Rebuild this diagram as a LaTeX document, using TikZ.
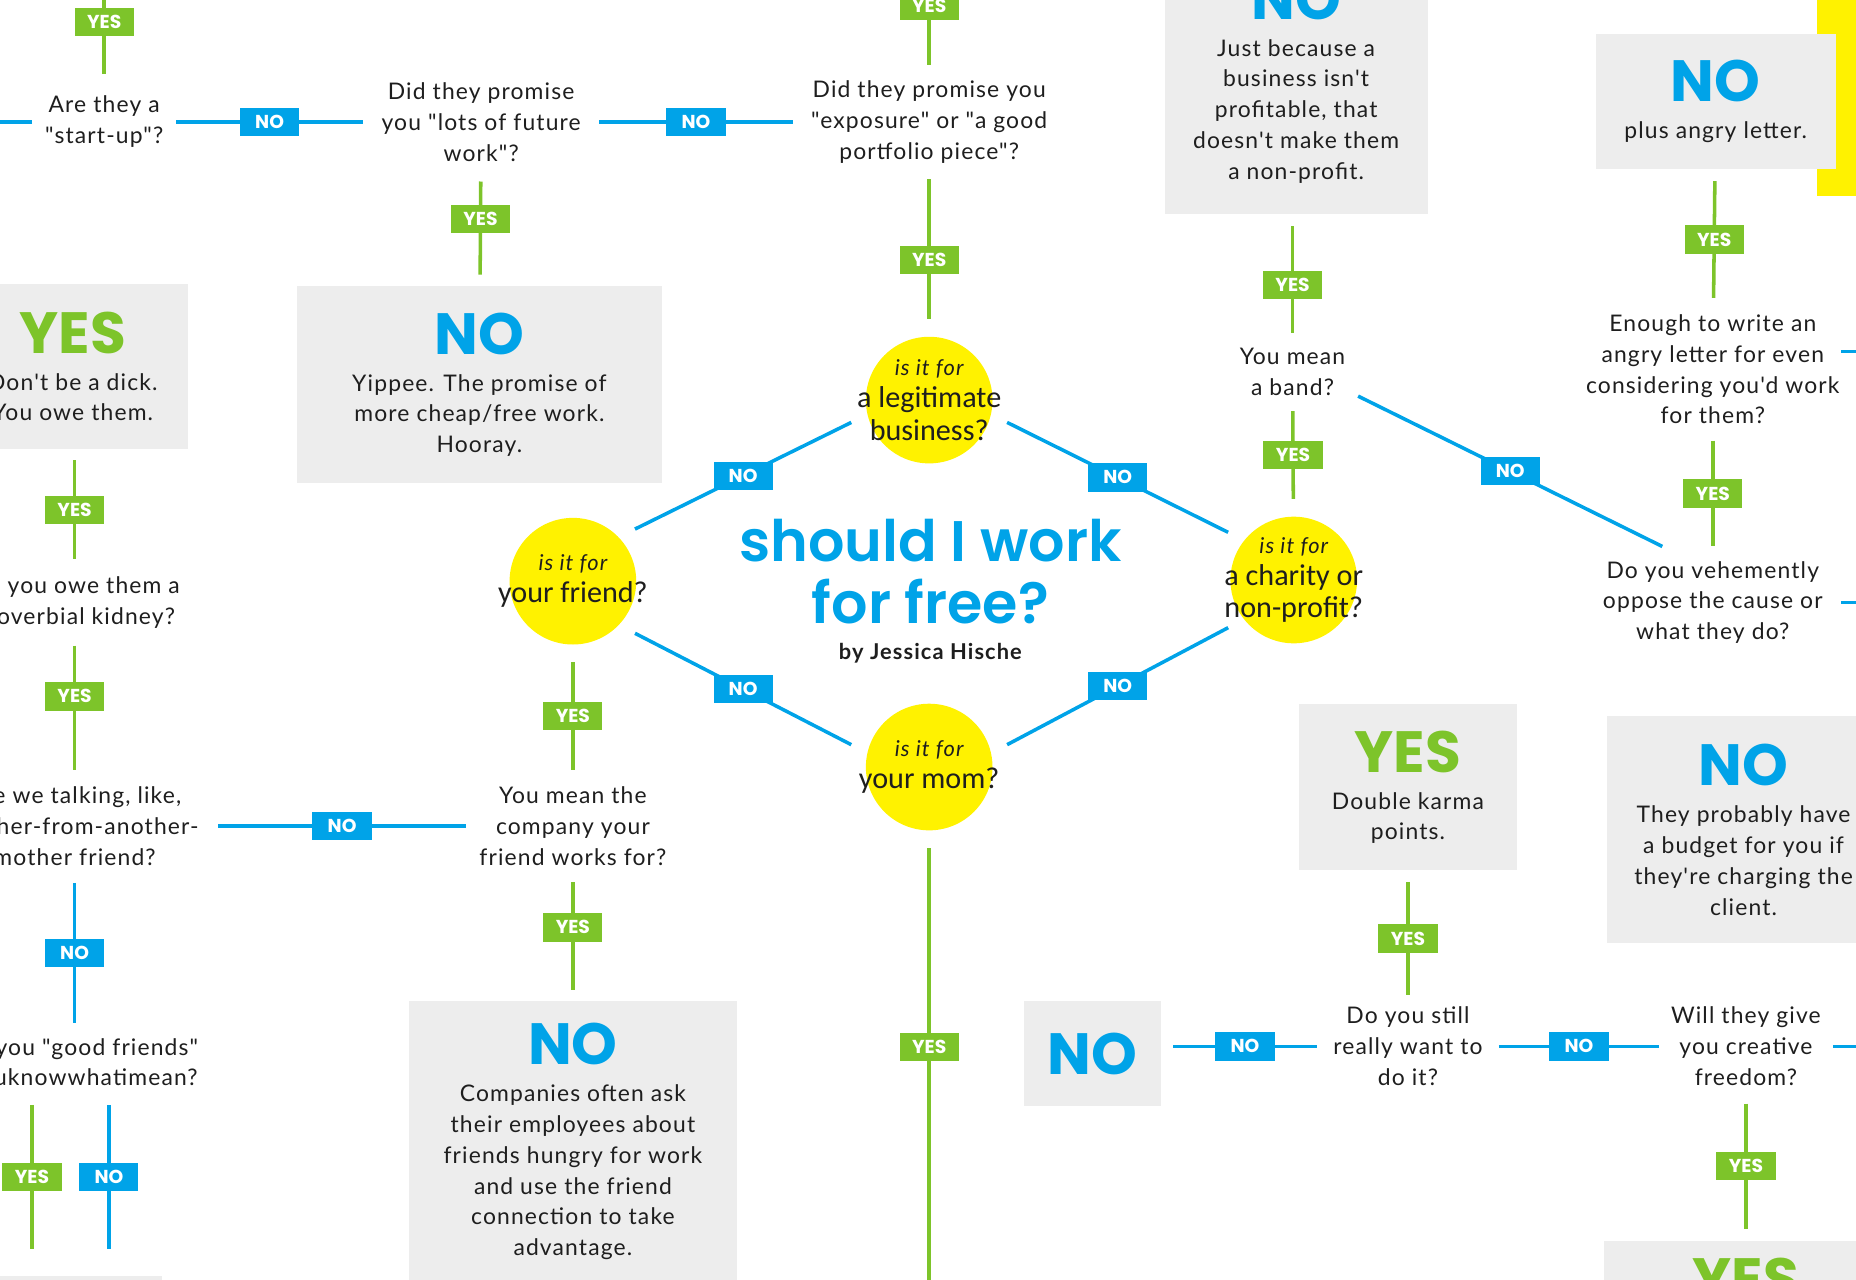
\documentclass[tikz,border=0pt]{standalone}
\usepackage{fontspec}
\setmainfont{Lato}
\newfontfamily\bodyfont{Lato}[LetterSpace=5]
\newfontfamily\headfont{Poppins}
\newfontfamily\titlefont{Poppins}[UprightFont=* SemiBold]
\newfontfamily\bubfont{Carlito}
\usetikzlibrary{calc}

\definecolor{yesgreen}{HTML}{7DC42A}
\definecolor{noblue}{HTML}{00A3E8}
\definecolor{sunny}{HTML}{FFF200}
\definecolor{boxgray}{HTML}{EDEDED}
\definecolor{ink}{HTML}{1E1E1E}

\newcommand{\bigyes}{{\headfont\bfseries\fontsize{28}{28}\selectfont\color{yesgreen}YES}}
\newcommand{\bigno}{{\headfont\bfseries\fontsize{28}{28}\selectfont\color{noblue}NO}}
\newcommand{\isitfor}{{\bodyfont\itshape\fontsize{10.5}{12}\selectfont is it for}}

\tikzset{
	ask/.style={font=\bodyfont\fontsize{11}{14.8}\selectfont, align=center, inner sep=0pt, text=ink},
	bubble/.style={circle, fill=sunny, minimum size=2.14cm, inner sep=0pt, outer sep=0.3cm},
	bubtext/.style={font=\bubfont\fontsize{14.5}{15.5}\selectfont, align=center, inner sep=0pt, text=ink},
	verdict/.style={fill=boxgray, align=center, inner sep=0pt, outer sep=0.2cm, text=ink,
		font=\bodyfont\fontsize{11}{14.8}\selectfont},
	yesline/.style={draw=yesgreen, line width=1.7pt},
	noline/.style={draw=noblue, line width=1.7pt},
	yeslab/.style={fill=yesgreen, text=white, inner sep=0pt, minimum width=1cm, minimum height=0.48cm,
		font=\headfont\bfseries\fontsize{9}{9}\selectfont},
	nolab/.style={yeslab, fill=noblue},
}

\begin{document}
\begin{tikzpicture}[x=0.02cm, y=-0.02cm]
		%%%%% START %%%%%
		\useasboundingbox (0,0) rectangle (1568,1081);
		\clip (0,0) rectangle (1568,1081);
		
		\node[fill=sunny, anchor=north west, minimum width=1.5cm, minimum height=3.5cm, inner sep=0pt] (sunbar) at (1535,-10) {};
		
		% circles and title
		\node[bubble] (legit) at (785,338) {};
		\node[bubtext] (legit-t) at (legit) {\isitfor\\a legitimate\\business?};
		\node[bubble] (friend) at (484,491) {};
		\node[bubtext] (friend-t) at (friend) {\isitfor\\your friend?};
		\node[bubble] (charity) at (1093,490) {};
		\node[bubtext] (charity-t) at (charity) {\isitfor\\a charity or\\non-profit?};
		\node[bubble] (mom) at (785,648) {};
		\node[bubtext] (mom-t) at (mom) {\isitfor\\your mom?};
		
		\node[align=center, text=noblue, font=\titlefont\fontsize{27.5}{29.6}\selectfont] (title) at (786,483) {should I work\\for free?};
		\node[text=ink, font=\bodyfont\bfseries\fontsize{10.5}{12}\selectfont] (byline) at (786,552) {by Jessica Hische};
		
		% questions
		\node[ask, minimum width=2.42cm, minimum height=1.6cm] (startup) at (88,103) {Are they a\\"start-up"?};
		\node[ask, minimum width=3.98cm, minimum height=2cm] (future) at (406.5,103) {Did they promise\\you "lots of future\\work"?};
		\node[ask, minimum width=4.6cm, minimum height=1.92cm] (exposure) at (785,103) {Did they promise you\\"exposure" or "a good\\portfolio piece"?};
		\node[ask, minimum width=2.2cm, minimum height=1.3cm] (band) at (1092,314.5) {You mean\\a band?};
		\node[ask, minimum width=4.32cm, minimum height=2.4cm] (enough) at (1447,312) {Enough to write an\\angry letter for even\\considering you'd work\\for them?};
		\node[ask, minimum width=4.32cm, minimum height=1.88cm] (vehement) at (1447,509) {Do you vehemently\\oppose the cause or\\what they do?};
		\node[ask, minimum width=3.06cm, minimum height=1.72cm] (still) at (1189.5,884) {Do you still\\really want to\\do it?};
		\node[ask, minimum width=2.92cm, minimum height=1.92cm] (freedom) at (1475,884) {Will they give\\you creative\\freedom?};
		\node[ask, minimum width=3.6cm, minimum height=1.88cm] (company) at (484,698) {You mean the\\company your\\friend works for?};
		\node[ask, minimum width=4.84cm, minimum height=1.9cm] (brother) at (63,698) {Are we talking, like,\\brother-from-another-\\mother friend?};
		\node[ask, minimum width=3.6cm, minimum height=1.44cm] (kidney) at (63,509) {Do you owe them a\\proverbial kidney?};
		\node[ask, minimum width=3.6cm, minimum height=1.36cm] (friends) at (63,899) {Are you "good friends"\\ifyouknowwhatimean?};
		
		% answers
		\node[verdict, minimum width=3.9cm, minimum height=2.78cm] (dick) at (61.5,309.5) {\bigyes\\[3pt]Don't be a dick.\\You owe them.};
		\node[verdict, minimum width=6.16cm, minimum height=3.32cm] (yippee) at (405,325) {\bigno\\[3pt]Yippee. The promise of\\more cheap/free work.\\Hooray.};
		\node[verdict, minimum width=4.44cm, minimum height=4.52cm] (justbec) at (1095,68) {\bigno\\[3pt]Just because a\\business isn't\\profitable, that\\doesn't make them\\a non-profit.};
		\node[verdict, minimum width=4.06cm, minimum height=2.28cm] (angry) at (1449.5,86) {\bigno\\[3pt]plus angry letter.};
		\node[verdict, minimum width=3.7cm, minimum height=2.8cm] (karma) at (1189.5,665) {\bigyes\\[3pt]Double karma\\points.};
		\node[verdict, minimum width=4.6cm, minimum height=3.84cm] (budget) at (1473,701) {\bigno\\[3pt]They probably have\\a budget for you if\\they're charging the\\client.};
		\node[verdict, minimum width=5.54cm, minimum height=4.74cm] (companies) at (484,964.5) {\bigno\\[3pt]Companies often ask\\their employees about\\friends hungry for work\\and use the friend\\connection to take\\advantage.};
		\node[verdict, minimum width=2.32cm, minimum height=1.76cm] (nope) at (923,890) {\bigno};
		\node[verdict, anchor=north, minimum width=4.34cm, minimum height=3cm] (bleft) at (28.5,1068) {};
		\node[verdict, anchor=north, minimum width=4.8cm, inner ysep=0.3cm] (final) at (1475,1038) {\bigyes};
		
		% top row
		\draw[noline] (startup.west) -- ++(-40,0);
		\draw[yesline] (startup.north) -- ++(0,-75) node[yeslab, pos=0.59] (y1) {YES};
		\draw[noline] (startup) -- (future) node[nolab, midway] (n1) {NO};
		\draw[noline] (future) -- (exposure) node[nolab, midway] (n2) {NO};
		\draw[yesline] (exposure.north) -- ++(0,-75) node[yeslab, pos=0.66] (y2) {YES};
		\draw[yesline] (future) -- (yippee) node[yeslab, pos=0.4] (y3) {YES};
		\draw[yesline] (exposure) -- (legit) node[yeslab, pos=0.58] (y4) {YES};
		
		% the diamond
		\draw[noline] (legit.196) -- (friend.40) node[nolab, midway] (n3) {NO};
		\draw[noline] (legit.344) -- (charity.144) node[nolab, midway] (n4) {NO};
		\draw[noline] (friend.320) -- (mom.164) node[nolab, midway] (n5) {NO};
		\draw[noline] (charity.216) -- (mom.16) node[nolab, midway] (n6) {NO};
		
		% charity side
		\draw[yesline] (band) -- (charity) node[yeslab, midway] (y5) {YES};
		\draw[yesline] (band |- justbec.south) -- (band) node[yeslab, pos=0.55] (y6) {YES};
		\draw[noline] (band.-20) -- (vehement.132) node[nolab, midway] (n7) {NO};
		\draw[yesline] (angry) -- (enough) node[yeslab, midway] (y7) {YES};
		\draw[yesline] (enough) -- (vehement) node[yeslab, midway] (y8) {YES};
		\draw[noline] (enough.8) -- ++(40,0);
		\draw[noline] (vehement.east) -- ++(40,0);
		
		% friend side
		\draw[yesline] (kidney |- dick.south) -- (kidney) node[yeslab, midway] (y9) {YES};
		\draw[yesline] (kidney) -- (brother) node[yeslab, pos=0.41] (y10) {YES};
		\draw[noline] (brother) -- (company) node[nolab, midway] (n8) {NO};
		\draw[noline] (brother) -- (friends) node[nolab, midway] (n9) {NO};
		\draw[yesline] ($(friends.south)+(-36,0)$) -- ++(0,122) node[yeslab, midway] (y11) {YES};
		\draw[noline] ($(friends.south)+(29,0)$) -- ++(0,122) node[nolab, midway] (n10) {NO};
		\draw[yesline] (friend) -- (company) node[yeslab, midway] (y12) {YES};
		\draw[yesline] (company) -- (companies) node[yeslab, pos=0.42] (y13) {YES};
		
		% mom side
		\draw[yesline] (mom.south) -- ++(0,400) node[yeslab, pos=0.42] (y14) {YES};
		\draw[noline] (nope.east |- still) -- (still) node[nolab, midway] (n11) {NO};
		\draw[noline] (still) -- (freedom) node[nolab, midway] (n12) {NO};
		\draw[yesline] (karma) -- (still) node[yeslab, midway] (y15) {YES};
		\draw[yesline] (freedom) -- (final) node[yeslab, midway] (y16) {YES};
		\draw[noline] (freedom.east) -- ++(40,0);
		
		%%%%% END %%%%%
\end{tikzpicture}
\end{document}
